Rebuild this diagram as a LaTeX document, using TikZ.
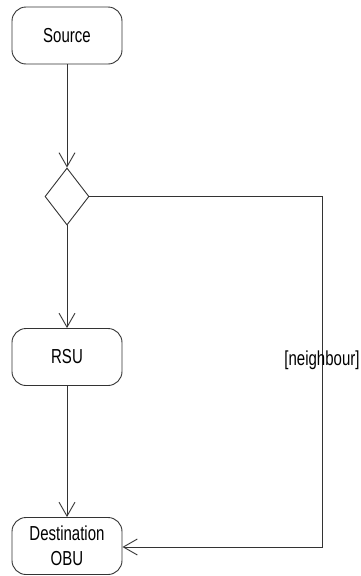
\documentclass[tikz,border=0pt]{standalone}
\usepackage{fontspec}
\setmainfont{Liberation Sans}
\usetikzlibrary{shapes.geometric,arrows.meta}
\newcommand{\stretchtxt}[1]{\scalebox{1}[1.35]{#1}}
\tikzset{
  act/.style={draw=black!80, line width=0.9pt, rounded corners=14pt, minimum width=110pt, minimum height=57pt, inner sep=0pt, align=center, font=\fontsize{15}{23}\selectfont},
  dec/.style={draw=black!80, line width=0.9pt, diamond, minimum width=44pt, minimum height=57pt, inner sep=0pt, aspect=0.77},
  flow/.style={draw=black!80, line width=0.9pt, -{Straight Barb[length=14pt, width=16pt, line width=0.9pt]}},
  lbl/.style={font=\fontsize{15}{18}\selectfont}
}
\begin{document}
\begin{tikzpicture}[x=1pt,y=-1pt]
\useasboundingbox (0,0) rectangle (361,576);
\node[act] (src) at (67,35.5) {\stretchtxt{Source}};
\node[dec] (d) at (67,196.5) {};
\node[act] (rsu) at (67,357) {\stretchtxt{RSU}};
\node[act] (dst) at (67,546) {\stretchtxt{Destination}\\[2pt]\stretchtxt{OBU}};
\coordinate (c1) at (322,196.5);
\coordinate (c2) at (322,547);
\draw[flow] (src) -- (d);
\draw[flow] (d) -- (rsu);
\draw[flow] (rsu) -- (dst);
\draw[flow] (d.east) -- (c1) -- (c2) -- (dst.east |- c2);
\node[lbl] (nb) at (322,360) {\stretchtxt{[neighbour]}};
\end{tikzpicture}
\end{document}
